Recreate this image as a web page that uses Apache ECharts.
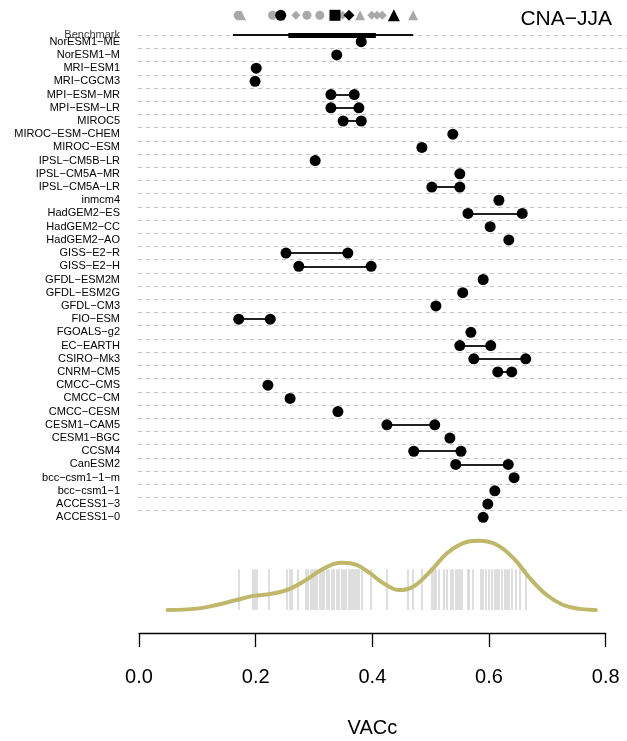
<!DOCTYPE html>
<html>
<head>
<meta charset="utf-8">
<script src="https://cdn.jsdelivr.net/npm/echarts@6/dist/echarts.min.js"></script>
<style>
  html, body { margin: 0; padding: 0; background: #fff; }
  #chart { width: 627px; height: 741px; }
</style>
</head>
<body>
<div id="chart"></div>
<script>
// models, top to bottom
const models = ['NorESM1-ME', 'NorESM1-M', 'MRI-ESM1', 'MRI-CGCM3', 'MPI-ESM-MR', 'MPI-ESM-LR', 'MIROC5',
  'MIROC-ESM-CHEM', 'MIROC-ESM', 'IPSL-CM5B-LR', 'IPSL-CM5A-MR', 'IPSL-CM5A-LR', 'inmcm4', 'HadGEM2-ES',
  'HadGEM2-CC', 'HadGEM2-AO', 'GISS-E2-R', 'GISS-E2-H', 'GFDL-ESM2M', 'GFDL-ESM2G', 'GFDL-CM3', 'FIO-ESM',
  'FGOALS-g2', 'EC-EARTH', 'CSIRO-Mk3', 'CNRM-CM5', 'CMCC-CMS', 'CMCC-CM', 'CMCC-CESM', 'CESM1-CAM5',
  'CESM1-BGC', 'CCSM4', 'CanESM2', 'bcc-csm1-1-m', 'bcc-csm1-1', 'ACCESS1-3', 'ACCESS1-0']
const vacMin = [0.381, 0.339, 0.201, 0.199, 0.329, 0.329, 0.350, 0.538, 0.485, 0.302, 0.550, 0.502, 0.617, 0.564,
  0.602, 0.634, 0.252, 0.274, 0.590, 0.555, 0.509, 0.171, 0.569, 0.550, 0.574, 0.615, 0.221, 0.259, 0.341, 0.425,
  0.533, 0.471, 0.543, 0.643, 0.610, 0.598, 0.590]
const vacMax = [0.381, 0.339, 0.201, 0.199, 0.369, 0.377, 0.381, 0.538, 0.485, 0.302, 0.550, 0.550, 0.617, 0.657,
  0.602, 0.634, 0.358, 0.398, 0.590, 0.555, 0.509, 0.225, 0.569, 0.603, 0.663, 0.639, 0.221, 0.259, 0.341, 0.507,
  0.533, 0.552, 0.633, 0.643, 0.610, 0.598, 0.590]

// benchmark: min, q1, q3, max
const bench = [0.161, 0.256, 0.406, 0.470]

// observation markers on top
const greyCircleObs = [0.170, 0.229, 0.288, 0.310]
const greyDiamondObs = [0.269, 0.349, 0.399, 0.408, 0.417]
const greyTriangleObs = [0.175, 0.379, 0.470]
const blackCircleObs = [0.243]
const blackSquareObs = [0.336]
const blackDiamondObs = [0.360]
const blackTriangleObs = [0.437]

// rug of all members
const rugValues = [0.171, 0.195, 0.198, 0.201, 0.222, 0.254, 0.258, 0.261, 0.272, 0.286, 0.290, 0.294, 0.297,
  0.301, 0.305, 0.309, 0.313, 0.317, 0.321, 0.325, 0.330, 0.334, 0.339, 0.343, 0.348, 0.351, 0.355, 0.359, 0.363,
  0.367, 0.370, 0.374, 0.377, 0.382, 0.397, 0.425, 0.461, 0.470, 0.485, 0.502, 0.506, 0.509, 0.513, 0.523, 0.528,
  0.535, 0.538, 0.543, 0.547, 0.550, 0.553, 0.563, 0.566, 0.572, 0.585, 0.590, 0.595, 0.600, 0.605, 0.610, 0.613,
  0.617, 0.622, 0.627, 0.630, 0.633, 0.639, 0.646, 0.653, 0.663]

// density curve
const densX = [0.049, 0.099, 0.133, 0.167, 0.196, 0.225, 0.253, 0.282, 0.310, 0.333, 0.350, 0.373, 0.396, 0.419,
  0.446, 0.470, 0.499, 0.528, 0.556, 0.582, 0.613, 0.642, 0.670, 0.699, 0.727, 0.756, 0.783]
const densY = [0.00, 0.05, 0.18, 0.36, 0.51, 0.58, 0.72, 1.03, 1.42, 1.66, 1.71, 1.63, 1.33, 0.97,
  0.72, 0.84, 1.39, 2.05, 2.42, 2.50, 2.36, 1.87, 1.15, 0.54, 0.18, 0.04, 0.00]

const xTicks = [0, 0.2, 0.4, 0.6, 0.8]

const nModels = models.length
const obsRow = nModels + 1
const benchRow = nModels - 0.5
const font = "'Liberation Sans', Arial, sans-serif"
const rowOf = (k) => nModels - 1 - k

const points = []
const ranges = []
models.forEach((m, k) => {
  points.push([vacMin[k], rowOf(k)])
  if (vacMax[k] !== vacMin[k]) {
    points.push([vacMax[k], rowOf(k)])
    ranges.push({ coords: [[vacMin[k], rowOf(k)], [vacMax[k], rowOf(k)]] })
  }
})

const xMin0 = -0.0017
const xMax0 = 0.8366

// dashed row guides
const guides = []
for (let i = 0; i < nModels; i++) guides.push({ coords: [[xMin0, i + 0.5], [xMax0, i + 0.5]] })

function obsSeries(values, symbol, color, size) {
  return {
    type: 'scatter', xAxisIndex: 0, yAxisIndex: 0, symbol: symbol, symbolSize: size,
    itemStyle: { color: color, opacity: 1 }, z: 5,
    data: values.map(v => [v, obsRow])
  }
}

const myChart = echarts.init(document.getElementById('chart'))

const option = {
  animation: false,
  title: {
    text: 'CNA\u2212JJA', right: 10, top: 4,
    textStyle: { fontFamily: font, fontSize: 21, fontWeight: 'normal', color: '#000' }
  },
  grid: [
    { left: 138, right: 0, top: 8.7, height: 521.8, containLabel: false, outerBoundsMode: 'none' },
    { left: 139, width: 466.7, top: 527, height: 83, containLabel: false, outerBoundsMode: 'none' },
    { left: 139, width: 466.7, top: 620, height: 13, containLabel: false, outerBoundsMode: 'none' }
  ],
  xAxis: [
    { gridIndex: 0, type: 'value', min: xMin0, max: xMax0, show: false },
    { gridIndex: 1, type: 'value', min: 0, max: 0.8, show: false },
    {
      gridIndex: 2, type: 'value', min: xTicks[0], max: xTicks[xTicks.length - 1], interval: 0.2,
      axisLine: { lineStyle: { color: '#000', width: 1.3 } },
      axisTick: { length: 14, lineStyle: { color: '#000', width: 1.3 } },
      splitLine: { show: false },
      axisLabel: { fontFamily: font, fontSize: 20, color: '#000', margin: 34, formatter: v => v.toFixed(1) },
      name: 'VACc', nameLocation: 'middle', nameGap: 85,
      nameTextStyle: { fontFamily: font, fontSize: 20, color: '#000' }
    }
  ],
  yAxis: [
    {
      gridIndex: 0, type: 'value', min: -1, max: nModels + 1.5, interval: 1,
      axisLine: { show: false }, axisTick: { show: false }, splitLine: { show: false },
      axisLabel: {
        fontFamily: font, fontSize: 11, color: '#000', margin: 18,
        formatter: v => (v >= 0 && v < nModels && v === Math.round(v)) ? models[nModels - 1 - v].replace(/-/g, '\u2212') : ''
      }
    },
    { gridIndex: 1, type: 'value', min: 0, max: 3, show: false },
    { gridIndex: 2, type: 'value', min: 0, max: 1, show: false }
  ],
  series: [
    {
      type: 'lines', coordinateSystem: 'cartesian2d', xAxisIndex: 0, yAxisIndex: 0, z: 1, silent: true,
      lineStyle: { color: '#c4c4c4', type: [4, 4], width: 1, opacity: 1 },
      data: guides
    },
    {
      type: 'lines', coordinateSystem: 'cartesian2d', xAxisIndex: 0, yAxisIndex: 0, z: 3,
      lineStyle: { color: '#222', width: 2, opacity: 1 },
      data: ranges
    },
    {
      type: 'lines', coordinateSystem: 'cartesian2d', xAxisIndex: 0, yAxisIndex: 0, z: 3,
      lineStyle: { color: '#111', width: 2, opacity: 1 },
      data: [{ coords: [[bench[0], benchRow], [bench[3], benchRow]] }]
    },
    {
      type: 'lines', coordinateSystem: 'cartesian2d', xAxisIndex: 0, yAxisIndex: 0, z: 3,
      lineStyle: { color: '#000', width: 5, opacity: 1 },
      data: [{ coords: [[bench[1], benchRow], [bench[2], benchRow]] }]
    },
    {
      type: 'scatter', xAxisIndex: 0, yAxisIndex: 0, symbolSize: 11, z: 4,
      itemStyle: { color: '#000', opacity: 1 },
      data: points
    },
    {
      type: 'scatter', xAxisIndex: 0, yAxisIndex: 0, symbolSize: 0,
      data: [[xMin0, benchRow]],
      label: { show: true, position: 'left', distance: 18, formatter: 'Benchmark', fontFamily: font, fontSize: 11, color: '#000' }
    },
    obsSeries(greyCircleObs, 'circle', '#a9a9a9', 9),
    obsSeries(greyDiamondObs, 'diamond', '#a9a9a9', 9),
    obsSeries(greyTriangleObs, 'triangle', '#a9a9a9', 10),
    obsSeries(blackCircleObs, 'circle', '#000', 11),
    obsSeries(blackSquareObs, 'rect', '#000', 11),
    obsSeries(blackDiamondObs, 'diamond', '#000', 11),
    obsSeries(blackTriangleObs, 'triangle', '#000', 12),
    {
      type: 'lines', coordinateSystem: 'cartesian2d', xAxisIndex: 1, yAxisIndex: 1, z: 2,
      lineStyle: { color: '#d3d3d3', width: 1.5, opacity: 1 },
      data: rugValues.map(v => ({ coords: [[v, 0], [v, 1.47]] }))
    },
    {
      type: 'line', xAxisIndex: 1, yAxisIndex: 1, z: 3, smooth: 0.4, showSymbol: false, symbol: 'none',
      lineStyle: { color: '#bfb86a', width: 4, cap: 'round' },
      data: densX.map((x, i) => [x, densY[i]])
    }
  ]
}

myChart.setOption(option)
</script>
</body>
</html>
